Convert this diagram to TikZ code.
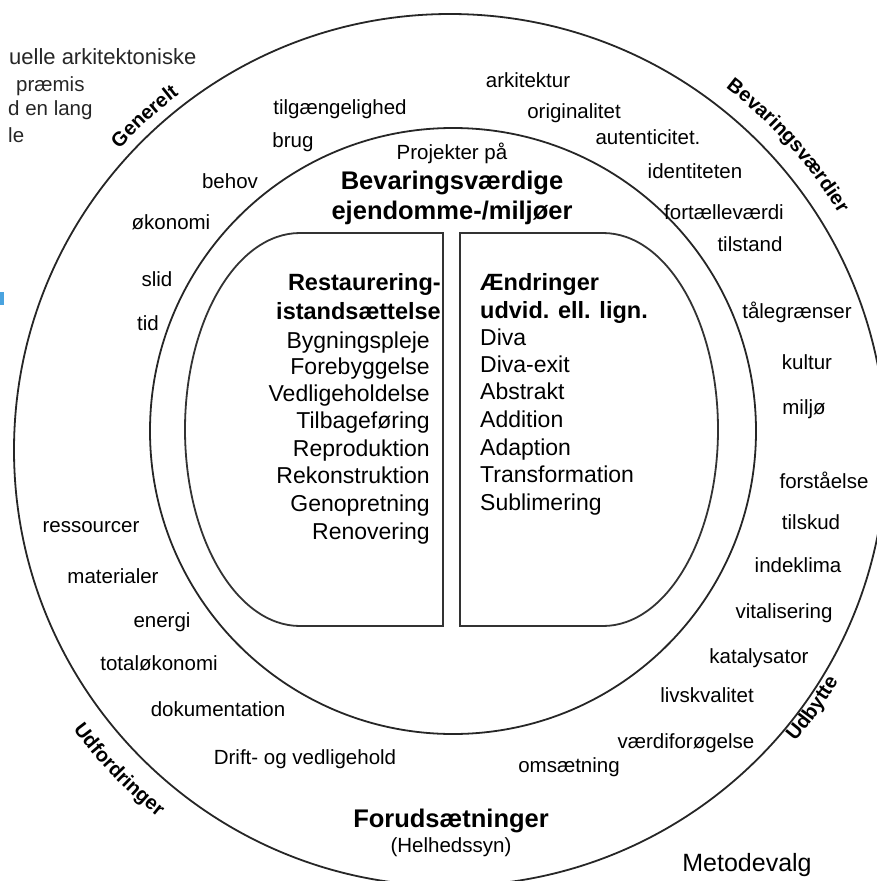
\documentclass[tikz,border=0pt]{standalone}
\usepackage{fontspec}
\setmainfont{Liberation Sans}
\usepackage[]{xcolor}
\usepackage[]{tikz}
\usetikzlibrary{decorations.text}
\definecolor{blaa}{HTML}{4AA3DF}
\tikzset{ring/.style={line width=1.8pt,black!85},
  felt/.style={line width=1.8pt,black!80},
  lbl/.style={inner sep=0pt,text height=14.7pt,text depth=0pt,font=\fontsize{20.5}{24}\selectfont},
  punkt/.style={inner sep=0pt,text height=16.5pt,text depth=0pt,font=\fontsize{23}{27}\selectfont},
  overskrift/.style={inner sep=0pt,text height=17pt,text depth=0pt,font=\bfseries\fontsize{23.5}{27}\selectfont},
  titel/.style={inner sep=0pt,text height=18.3pt,text depth=0pt,font=\bfseries\fontsize{25.5}{30}\selectfont},
  bue/.style={decorate,decoration={text along path,text align=center,text={|\bfseries\fontsize{20}{24}\selectfont|#1}}}}

\begin{document}
\begin{tikzpicture}[x=1pt,y=-1pt] % y peger nedad, 1pt = 1 pixel
            \useasboundingbox (0,0) rectangle (877,881);
            \coordinate (O) at (450,450);
            \coordinate (M) at (453,431);
            \draw[ring] (O) circle[radius=436];  % ydre ring
            \draw[ring] (M) circle[radius=303];  % indre ring
            % de to felter
            \draw[felt] (443,233) -- (300,233) arc[x radius=115,y radius=196.5,start angle=-90,end angle=-270] -- (443,626) -- cycle;
            \draw[felt] (460,233) -- (603,233) arc[x radius=115,y radius=196.5,start angle=-90,end angle=90] -- (460,626) -- cycle;
            % tekst langs ringen
            \path[bue=Generelt] (O) ++(-145:447) arc[start angle=-145,end angle=-120,radius=447];
            \path[bue=Bevaringsværdier] (O) ++(-58:455) arc[start angle=-58,end angle=-26,radius=455];
            \path[bue=Udfordringer] (O) ++(-212:469) arc[start angle=-212,end angle=-236,radius=469];
            \path[bue=Udbytte] (O) ++(44:452) arc[start angle=44,end angle=27,radius=452];
            % midten
            \node[lbl] (proj) at (452,152) {Projekter på};
            \node[titel] (bev) at (452,180) {Bevaringsværdige};
            \node[titel] (ejd) at (452,210) {ejendomme-/miljøer};
            \node[overskrift,anchor=east] (rest) at (441,282) {Restaurering-};
            \node[overskrift,anchor=east] (ist) at (441,311) {istandsættelse};
            \node[punkt,anchor=east] (byg) at (430,340) {Bygningspleje};
            \node[punkt,anchor=east] (fore) at (430,366) {Forebyggelse};
            \node[punkt,anchor=east] (vedl) at (430,393) {Vedligeholdelse};
            \node[punkt,anchor=east] (tilb) at (430,420) {Tilbageføring};
            \node[punkt,anchor=east] (repr) at (430,448) {Reproduktion};
            \node[punkt,anchor=east] (rekon) at (430,475) {Rekonstruktion};
            \node[punkt,anchor=east] (geno) at (430,503) {Genopretning};
            \node[punkt,anchor=east] (reno) at (430,531) {Renovering};
            \node[overskrift,anchor=west] (aend) at (480,282) {Ændringer};
            \node[overskrift,anchor=west] (udv) at (480,310) {udvid. ell. lign.};
            \node[punkt,anchor=west] (diva) at (480,337) {Diva};
            \node[punkt,anchor=west] (divx) at (480,364) {Diva-exit};
            \node[punkt,anchor=west] (abs) at (480,391) {Abstrakt};
            \node[punkt,anchor=west] (addi) at (480,419) {Addition};
            \node[punkt,anchor=west] (adap) at (480,447) {Adaption};
            \node[punkt,anchor=west] (trans) at (480,474) {Transformation};
            \node[punkt,anchor=west] (subl) at (480,502) {Sublimering};
            % mellem ringene
            \node[lbl] (tilg) at (340,107) {tilgængelighed};
            \node[lbl] (brug) at (293,140) {brug};
            \node[lbl] (behov) at (230,181) {behov};
            \node[lbl] (oek) at (171,222) {økonomi};
            \node[lbl] (slid) at (157,279) {slid};
            \node[lbl] (tid) at (148,323) {tid};
            \node[lbl] (ark) at (528,80) {arkitektur};
            \node[lbl] (orig) at (574,111) {originalitet};
            \node[lbl] (aut) at (648,137) {autenticitet.};
            \node[lbl] (ident) at (695,171) {identiteten};
            \node[lbl] (fort) at (724,212) {fortælleværdi};
            \node[lbl] (tilst) at (750,244) {tilstand};
            \node[lbl] (taal) at (797,311) {tålegrænser};
            \node[lbl] (kult) at (807,362) {kultur};
            \node[lbl] (milj) at (804,407) {miljø};
            \node[lbl] (forst) at (824,481) {forståelse};
            \node[lbl] (tilsk) at (811,522) {tilskud};
            \node[lbl] (inde) at (798,565) {indeklima};
            \node[lbl] (vital) at (784,611) {vitalisering};
            \node[lbl] (kata) at (759,656) {katalysator};
            \node[lbl] (livs) at (707,695) {livskvalitet};
            \node[lbl] (vaerd) at (686,741) {værdiforøgelse};
            \node[lbl] (oms) at (569,765) {omsætning};
            \node[lbl] (ress) at (91,525) {ressourcer};
            \node[lbl] (mat) at (113,576) {materialer};
            \node[lbl] (energi) at (162,620) {energi};
            \node[lbl] (total) at (159,663) {totaløkonomi};
            \node[lbl] (dok) at (218,709) {dokumentation};
            \node[lbl] (drift) at (305,757) {Drift- og vedligehold};
            \node[titel] (foru) at (451,818) {Forudsætninger};
            \node[lbl] (helh) at (451,845) {(Helhedssyn)};
            \node[inner sep=0pt,text height=18pt,text depth=0pt,font=\fontsize{25}{30}\selectfont] (meto) at (747,862) {Metodevalg};
            % afskaaret tekst i hjoernet
            \node[lbl,anchor=west,text=black!85,font=\fontsize{22}{26}\selectfont] (t1) at (9,57) {uelle arkitektoniske};
            \node[lbl,anchor=west,text=black!85] (t2) at (16,84) {præmis};
            \node[lbl,anchor=west,text=black!85] (t3) at (8,108) {d en lang};
            \node[lbl,anchor=west,text=black!85] (t4) at (8,135) {le};
            \fill[blaa] (0,292) rectangle (4,305);
        \end{tikzpicture}
\end{document}
